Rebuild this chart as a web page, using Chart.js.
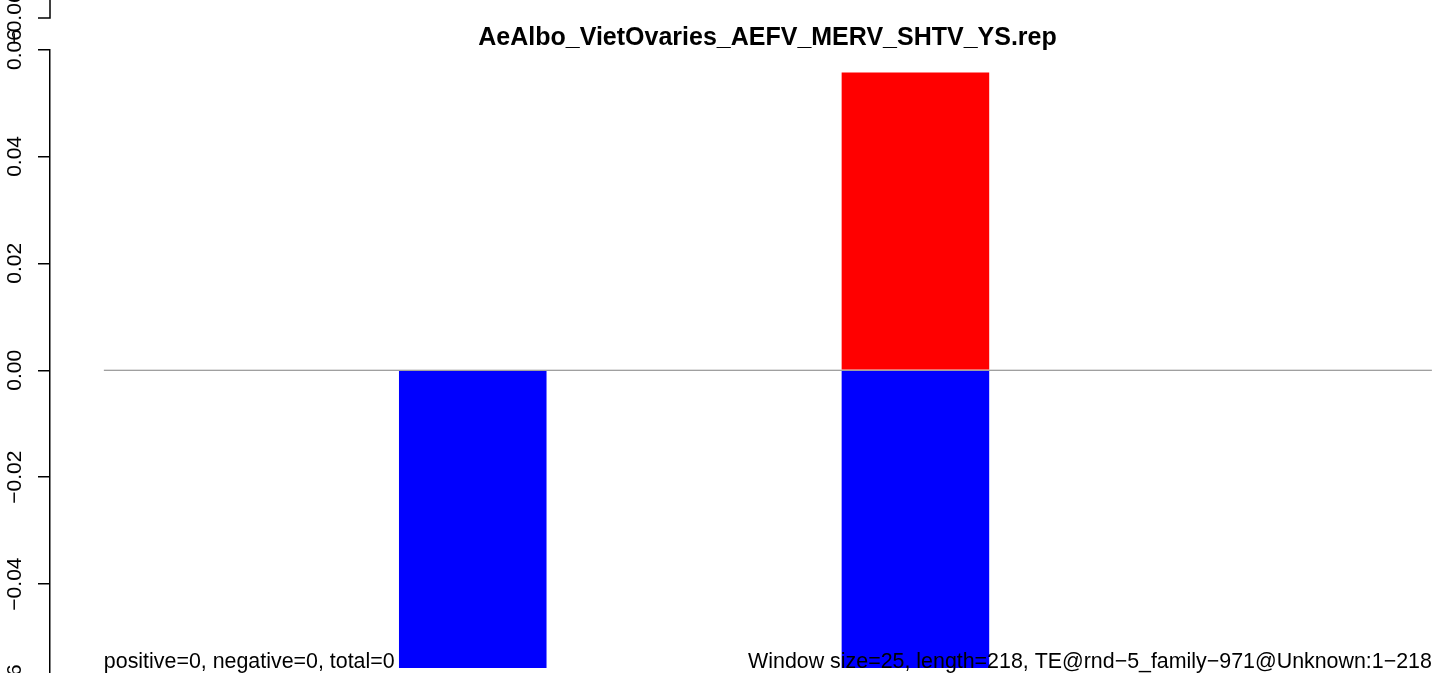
<!DOCTYPE html>
<html>
<head>
<meta charset="utf-8">
<script src="https://cdn.jsdelivr.net/npm/chart.js@4.4.1/dist/chart.umd.min.js"></script>
<style>
  html, body { margin: 0; padding: 0; background: #fff; overflow: hidden; }
  #wrap { width: 1441px; height: 673px; overflow: hidden; position: relative; }
  canvas { position: absolute; left: 0; top: 0; }
</style>
</head>
<body>
<div id="wrap"><canvas id="chart" width="1536" height="760"></canvas></div>
<script>
// bar centres (R barplot units, width 1, space 2)
let barPositions = [2.5, 5.5, 8.5];
let negativeValues = [-0.0557, -0.0557, 0];
let positiveValues = [0, 0.0557, 0];
let yMin = -0.06, yMax = 0.06, yStep = 0.02;

let title = "AeAlbo_VietOvaries_AEFV_MERV_SHTV_YS.rep";
let leftNote = "positive=0, negative=0, total=0";
let rightNote = "Window size=25, length=218, TE@rnd\u22125_family\u2212971@Unknown:1\u2212218";

const FONT = "'Liberation Sans', Arial, Helvetica, sans-serif";

function fmt(v){
  if (Math.abs(v) < 1e-9) return "0.00";
  return (v < 0 ? "\u2212" : "") + Math.abs(v).toFixed(2);
}

/* bottom notes + the bit of the panel above that shows at the top */
let notes = {
  id: "notes",
  afterDatasetsDraw(chart){
    let ctx = chart.ctx, x = chart.scales.x, y = chart.scales.y;
    ctx.save();
    ctx.fillStyle = "#000";
    ctx.font = "21.4px " + FONT;
    ctx.textBaseline = "alphabetic";
    let base = y.getPixelForValue(-0.0557);
    ctx.textAlign = "left";
    ctx.fillText(leftNote, x.getPixelForValue(0), base);
    ctx.textAlign = "right";
    ctx.fillText(rightNote, x.getPixelForValue(9), base);

    // previous panel (one page height higher)
    let shift = 673;
    let prevTick = y.getPixelForValue(yMin) - shift;
    let ax = chart.chartArea.left;
    ctx.strokeStyle = "#000";
    ctx.lineWidth = 1.5;
    ctx.beginPath();
    ctx.moveTo(ax, -5);
    ctx.lineTo(ax, prevTick);
    ctx.lineTo(ax - 12, prevTick);
    ctx.stroke();
    ctx.textAlign = "left";
    ctx.fillText(leftNote, x.getPixelForValue(0), base - shift);
    ctx.font = "21px " + FONT;
    ctx.translate(15, prevTick);
    ctx.rotate(-Math.PI / 2);
    ctx.textAlign = "center";
    ctx.textBaseline = "middle";
    ctx.fillText(fmt(yMin), 0, 0);
    ctx.restore();
  }
};

let mk = (vals) => barPositions.map((p, i) => ({x: p, y: vals[i]}));

new Chart(document.getElementById("chart"), {
  type: "bar",
  data: {
    datasets: [
      {
        type: "line",
        data: [{x: 0, y: 0}, {x: 9, y: 0}],
        borderColor: "#808080",
        borderWidth: 1.2,
        pointRadius: 0,
        stack: "zero",
        order: 2
      },
      {
        label: "negative",
        data: mk(negativeValues),
        backgroundColor: "#0000ff",
        borderWidth: 0,
        categoryPercentage: 1/3,
        barPercentage: 1,
        stack: "s",
        order: 1
      },
      {
        label: "positive",
        data: mk(positiveValues),
        backgroundColor: "#ff0000",
        borderWidth: 0,
        categoryPercentage: 1/3,
        barPercentage: 1,
        stack: "s",
        order: 1
      }
    ]
  },
  options: {
    responsive: false,
    animation: false,
    devicePixelRatio: 1,
    layout: { padding: { top: 0, right: 51, bottom: 69, left: 0 } },
    plugins: {
      legend: { display: false },
      tooltip: { enabled: false },
      title: {
        display: true,
        text: title,
        fullSize: false,
        color: "#000",
        font: { family: FONT, size: 25, weight: "bold", lineHeight: 0.9 },
        padding: { top: 27, bottom: 0 }
      }
    },
    scales: {
      x: {
        type: "linear",
        min: -0.365,
        max: 9.36,
        offset: false,
        stacked: true,
        display: false,
        ticks: { stepSize: 3, includeBounds: false }
      },
      y: {
        min: yMin,
        max: yMax,
        stacked: true,
        afterFit: s => { s.width = 50; },
        border: { display: true, color: "#000", width: 1.5 },
        grid: { drawOnChartArea: false, drawTicks: true, tickLength: 12, color: "#000", lineWidth: 1.5 },
        ticks: {
          stepSize: yStep,
          autoSkip: false,
          minRotation: 90,
          maxRotation: 90,
          crossAlign: "center",
          padding: -3.5,
          color: "#000",
          font: { family: FONT, size: 21 },
          callback: v => fmt(v)
        }
      }
    }
  },
  plugins: [notes]
});
</script>
</body>
</html>
